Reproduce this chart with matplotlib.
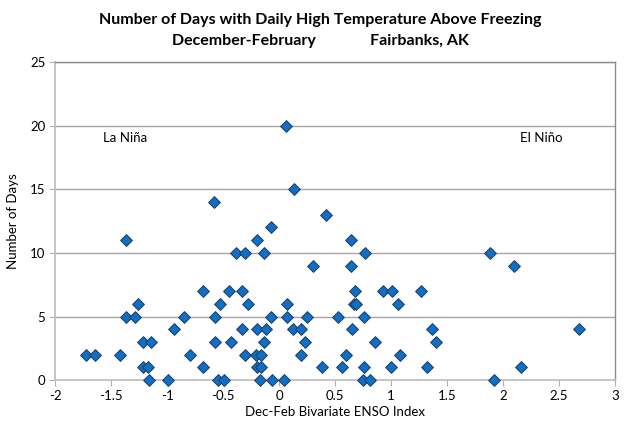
import matplotlib; matplotlib.use("Agg")
import matplotlib.pyplot as plt
import numpy as np

plt.rcParams["font.family"] = ["Lato", "DejaVu Sans"]

# Dec-Feb bivariate ENSO index and number of days above freezing, grouped by day count
days_20 = [0.06]
days_15 = [0.13]
days_14 = [-0.58]
days_13 = [0.42]
days_12 = [-0.07]
days_11 = [-1.365, -0.197, 0.64]
days_10 = [-0.383, -0.308, -0.134, 0.765, 1.88]
days_9 = [0.305, 0.64, 2.10]
days_7 = [-0.678, -0.448, -0.334, 0.68, 0.93, 1.006, 1.27]
days_6 = [-1.26, -0.53, -0.28, 0.075, 0.67, 0.685, 1.065]
days_5 = [-1.365, -1.29, -0.85, -0.576, -0.075, 0.069, 0.25, 0.53, 0.76]
days_4 = [-0.94, -0.334, -0.197, -0.114, 0.128, 0.20, 0.654, 1.37, 2.68]
days_3 = [-1.216, -1.14, -0.576, -0.43, -0.13, 0.236, 0.86, 1.40]
days_2 = [-1.727, -1.646, -1.42, -0.795, -0.305, -0.21, -0.165, 0.20, 0.60, 1.08]
days_1 = [-1.216, -1.17, -0.675, -0.194, -0.158, 0.38, 0.56, 0.76, 1.00, 1.32, 2.16]
days_0 = [-1.165, -0.99, -0.546, -0.487, -0.173, -0.063, 0.045, 0.75, 0.81, 1.92]

groups = {20: days_20, 15: days_15, 14: days_14, 13: days_13, 12: days_12, 11: days_11,
          10: days_10, 9: days_9, 7: days_7, 6: days_6, 5: days_5, 4: days_4,
          3: days_3, 2: days_2, 1: days_1, 0: days_0}
enso = []; ndays = []
for d, xs in groups.items():
    enso += xs; ndays += [d] * len(xs)

x_ticks = [-2, -1.5, -1, -0.5, 0, 0.5, 1, 1.5, 2, 2.5, 3]
y_ticks = [0, 5, 10, 15, 20, 25]

fig = plt.figure(figsize=(6.4, 4.36), dpi=100)
ax = fig.add_axes([0.086, 0.128, 0.875, 0.730])

for yv in y_ticks[1:]:
    ax.axhline(yv, color="#a6a6a6", lw=1, zorder=1)

ax.scatter(enso, ndays, marker="D", s=36, facecolor="#0f6fc6", edgecolor="#1f3b5c",
           linewidth=0.7, zorder=3, clip_on=False)

ax.set_xlim(-2, 3); ax.set_ylim(0, 25)
ax.set_xticks(x_ticks); ax.set_yticks(y_ticks)
ax.set_xticklabels([f"{v:g}" for v in x_ticks])
ax.tick_params(axis="both", direction="out", length=4, color="#b0b0b0", labelsize=9.5,
               labelcolor="black", pad=3)

for s in ["left", "bottom"]:
    ax.spines[s].set_color("#c0c0c0"); ax.spines[s].set_linewidth(1.3)
for s in ["top", "right"]:
    ax.spines[s].set_color("#8c8c8c"); ax.spines[s].set_linewidth(1)

ax.set_xlabel("Dec-Feb Bivariate ENSO Index", fontsize=9.5, labelpad=3)
ax.set_ylabel("Number of Days", fontsize=9.5, labelpad=8)

ax.text(-1.37, 19, "La Niña", ha="center", va="center", fontsize=9.5)
ax.text(2.34, 19, "El Niño", ha="center", va="center", fontsize=9.5)

fig.text(0.5, 0.955, "Number of Days with Daily High Temperature Above Freezing",
         ha="center", va="center", fontsize=11.5, fontweight="bold")
fig.text(0.5, 0.905, "December-February              Fairbanks, AK",
         ha="center", va="center", fontsize=11.5, fontweight="bold")

fig.savefig("out.png", dpi=100)
